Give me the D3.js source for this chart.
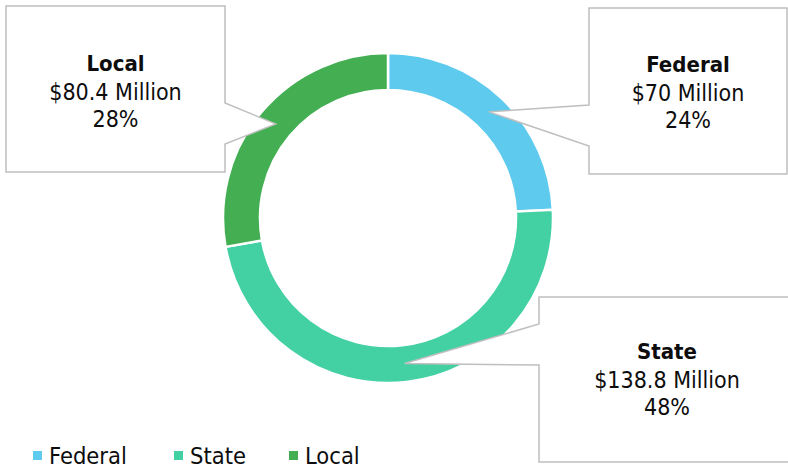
<!DOCTYPE html>
<html>
<head>
<meta charset="utf-8">
<script src="https://cdn.jsdelivr.net/npm/d3@7/dist/d3.min.js"></script>
<style>
  html, body { margin: 0; padding: 0; background: #fff; }
  svg text { font-family: 'DejaVu Sans Condensed', 'DejaVu Sans', sans-serif; fill: #0d0d0d; }
</style>
</head>
<body>
<svg id="chart" width="788" height="469"></svg>
<script>
const categories = ["Federal", "State", "Local"];
const values = [70, 138.8, 80.4];            // $ Million
const valueLabels = ["$70 Million", "$138.8 Million", "$80.4 Million"];
const percentLabels = ["24%", "48%", "28%"];
const colors = ["#5DCAEE", "#43D0A3", "#43AF52"];

const svg = d3.select("#chart");
const cx = 388, cy = 218, R = 165, r = 128;

const pie = d3.pie().sort(null).value(d => d)(values);
const arc = d3.arc().innerRadius(r).outerRadius(R);
const midArc = d3.arc().innerRadius((R + r) / 2).outerRadius((R + r) / 2);

const g = svg.append("g").attr("transform", `translate(${cx},${cy})`);
g.selectAll("path.slice").data(pie).join("path")
  .attr("class", "slice")
  .attr("d", arc)
  .attr("fill", (d, i) => colors[i])
  .attr("stroke", "#fff")
  .attr("stroke-width", 2.5);

// Callout layout (box rect, side the pointer leaves from, pointer base y's, text baselines)
const callouts = [
  { x0: 589, y0: 8, x1: 787, y1: 174, side: "left", b1: 105, b2: 146, tx: 688, ty: 72 },
  { x0: 539, y0: 297, x1: 800, y1: 462, side: "left", b1: 324, b2: 365, tx: 667, ty: 359 },
  { x0: 6, y0: 6, x1: 225, y1: 172, side: "right", b1: 103, b2: 144, tx: 115.5, ty: 71 }
];

callouts.forEach((c, i) => {
  const [mx, my] = midArc.centroid(pie[i]);
  const tip = [cx + mx, cy + my];
  let pts;
  if (c.side === "left") {
    pts = [[c.x0, c.y0], [c.x1, c.y0], [c.x1, c.y1], [c.x0, c.y1], [c.x0, c.b2], tip, [c.x0, c.b1]];
  } else {
    pts = [[c.x0, c.y0], [c.x1, c.y0], [c.x1, c.b1], tip, [c.x1, c.b2], [c.x1, c.y1], [c.x0, c.y1]];
  }
  svg.append("path")
    .attr("d", d3.line()(pts) + "Z")
    .attr("fill", "#fff")
    .attr("stroke", "#BFBFBF")
    .attr("stroke-width", 1.5)
    .attr("stroke-linejoin", "miter");
  const t = svg.append("text").attr("text-anchor", "middle");
  t.append("tspan").attr("x", c.tx).attr("y", c.ty).attr("font-weight", "bold").attr("font-size", 22).text(categories[i]);
  t.append("tspan").attr("x", c.tx).attr("y", c.ty + 28.5).attr("font-size", 23).text(valueLabels[i]);
  t.append("tspan").attr("x", c.tx).attr("y", c.ty + 56).attr("font-size", 23).text(percentLabels[i]);
});

// Legend
const legendX = [33, 174, 289];
const lg = svg.append("g");
categories.forEach((c, i) => {
  lg.append("rect").attr("x", legendX[i]).attr("y", 451).attr("width", 9).attr("height", 9).attr("fill", colors[i]);
  lg.append("text").attr("x", legendX[i] + 16).attr("y", 464).attr("font-size", 23.5).text(c);
});
</script>
</body>
</html>
